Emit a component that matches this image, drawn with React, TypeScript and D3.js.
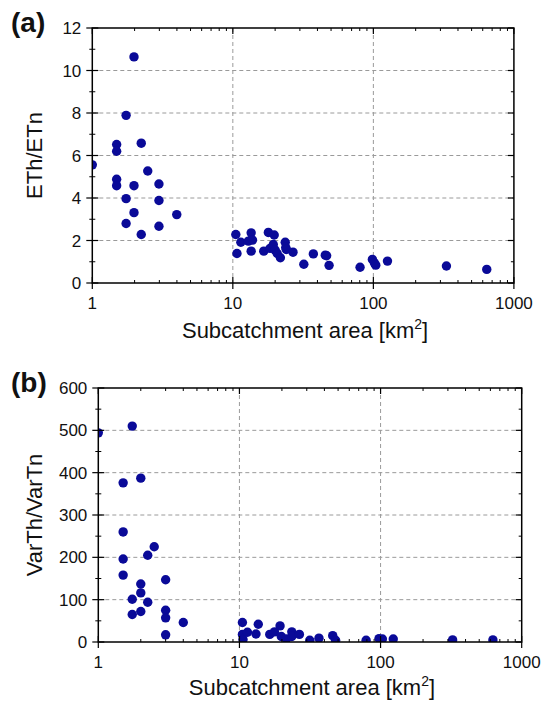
import React from "react";
import * as d3 from "d3";

// Panel (a): ETh/ETn vs subcatchment area
const topArea = [1, 1.98, 1.74, 1.49, 1.49, 2.23, 2.48, 1.49, 1.49, 1.98, 2.98, 1.74, 2.98, 1.98, 3.99, 1.74, 2.98, 2.23,
  10.5, 10.7, 11.4, 12.9, 13.5, 13.8, 13.5, 16.6, 17.9, 19.7, 18.4, 19.4, 20.0, 20.7, 21.8, 23.6, 23.8, 24.0, 26.8, 32.0,
  37.4, 45.5, 46.5, 48.4, 80.4, 98.4, 101.6, 104, 126, 331, 641];
const topRatio = [5.56, 10.64, 7.89, 6.52, 6.2, 6.58, 5.27, 4.88, 4.58, 4.58, 4.66, 3.97, 3.88, 3.31, 3.22, 2.8, 2.67, 2.28,
  2.28, 1.39, 1.92, 1.97, 2.36, 2.02, 1.5, 1.5, 2.38, 2.26, 1.63, 1.81, 1.55, 1.39, 1.19, 1.92, 1.67, 1.58, 1.45, 0.88,
  1.37, 1.31, 1.28, 0.83, 0.74, 1.11, 0.95, 0.84, 1.03, 0.8, 0.64];

// Panel (b): VarTh/VarTn vs subcatchment area
const bottomArea = [1, 1.74, 1.5, 2.0, 1.5, 2.49, 2.24, 1.5, 1.5, 3.0, 2.0, 2.0, 1.74, 2.24, 2.0, 3.0, 1.74, 3.0, 4.0, 3.0,
  10.5, 10.5, 10.6, 11.4, 13.6, 13.1, 16.4, 17.7, 19.4, 19.8, 21.5, 23.5, 23.5, 26.6, 31.5, 36.6, 45.8, 48, 79, 97.5, 103,
  123, 324, 625];
const bottomRatio = [494, 510, 376, 387, 260, 225, 205, 196, 158, 147, 137, 116, 101, 94, 72, 75, 65, 57, 46, 17,
  46, 18, 6, 23, 42, 19, 18, 24, 38, 13, 7, 24, 13, 18, 4, 9, 15, 4, 4, 8, 7, 7, 5, 5];

const xMajorTicks = [1, 10, 100, 1000];
const xTickLabels = ["1", "10", "100", "1000"];
const topYTicks = [0, 2, 4, 6, 8, 10, 12];
const bottomYTicks = [0, 100, 200, 300, 400, 500, 600];

const FONT = "'Liberation Sans', Arial, Helvetica, sans-serif";
const DOT = "#0a0a98";

type PanelProps = {
  id: string;
  xs: number[];
  ys: number[];
  yTicks: number[];
  left: number;
  right: number;
  top: number;
  bottom: number;
  yLabel: string;
  tag: string;
  labelOffset: number;
};

function Panel({ id, xs, ys, yTicks, left, right, top, bottom, yLabel, tag, labelOffset }: PanelProps) {
  const x = d3.scaleLog().domain([1, 1000]).range([left, right]);
  const yMax = yTicks[yTicks.length - 1];
  const y = d3.scaleLinear().domain([0, yMax]).range([bottom, top]);
  const step = yTicks[1] - yTicks[0];
  const yMinor = yTicks.slice(0, -1).map((t) => t + step / 2);
  const xMinor: number[] = [];
  [1, 10, 100].forEach((d) => {
    for (let k = 2; k <= 9; k++) xMinor.push(k * d);
  });
  const midX = (left + right) / 2;
  const midY = (top + bottom) / 2;
  return (
    <g>
      <defs>
        <clipPath id={`clip-${id}`}>
          <rect x={left} y={top} width={right - left} height={bottom - top} />
        </clipPath>
      </defs>
      {/* grid */}
      {yTicks.slice(1, -1).map((t) => (
        <line key={`gy${t}`} x1={left} x2={right} y1={y(t)} y2={y(t)} stroke="#9a9a9a" strokeWidth={1} strokeDasharray="4,3" />
      ))}
      {[10, 100].map((t) => (
        <line key={`gx${t}`} x1={x(t)} x2={x(t)} y1={top} y2={bottom} stroke="#9a9a9a" strokeWidth={1} strokeDasharray="4,3" />
      ))}
      {/* points */}
      <g clipPath={`url(#clip-${id})`}>
        {xs.map((v, i) => (
          <circle key={i} cx={x(v)} cy={y(ys[i])} r={4.7} fill={DOT} />
        ))}
      </g>
      {/* frame */}
      <rect x={left} y={top} width={right - left} height={bottom - top} fill="none" stroke="#000" strokeWidth={1.5} />
      {/* left/right ticks */}
      {yTicks.map((t) => (
        <g key={`yt${t}`}>
          <line x1={left - 6} x2={left + 6} y1={y(t)} y2={y(t)} stroke="#000" strokeWidth={1.2} />
          <line x1={right - 6} x2={right} y1={y(t)} y2={y(t)} stroke="#000" strokeWidth={1.2} />
          <text x={left - 11} y={y(t)} dy="0.36em" textAnchor="end" fontFamily={FONT} fontSize={17} fill="#111">
            {t}
          </text>
        </g>
      ))}
      {yMinor.map((t) => (
        <g key={`ym${t}`}>
          <line x1={left - 3} x2={left + 3} y1={y(t)} y2={y(t)} stroke="#000" strokeWidth={1} />
          <line x1={right - 3} x2={right} y1={y(t)} y2={y(t)} stroke="#000" strokeWidth={1} />
        </g>
      ))}
      {/* top/bottom ticks */}
      {xMajorTicks.map((t, i) => (
        <g key={`xt${t}`}>
          <line x1={x(t)} x2={x(t)} y1={bottom - 6} y2={bottom + 6} stroke="#000" strokeWidth={1.2} />
          <line x1={x(t)} x2={x(t)} y1={top} y2={top + 6} stroke="#000" strokeWidth={1.2} />
          <text x={x(t)} y={bottom + 26} textAnchor="middle" fontFamily={FONT} fontSize={17} fill="#111">
            {xTickLabels[i]}
          </text>
        </g>
      ))}
      {xMinor.map((t) => (
        <g key={`xm${t}`}>
          <line x1={x(t)} x2={x(t)} y1={bottom - 3} y2={bottom} stroke="#000" strokeWidth={1} />
          <line x1={x(t)} x2={x(t)} y1={top} y2={top + 3} stroke="#000" strokeWidth={1} />
        </g>
      ))}
      {/* axis labels */}
      <text x={midX + 2} y={bottom + labelOffset} textAnchor="middle" fontFamily={FONT} fontSize={22} fill="#111">
        Subcatchment area [km
        <tspan fontSize={14} dy={-9}>2</tspan>
        <tspan dy={9}>]</tspan>
      </text>
      <text
        transform={`translate(42,${midY}) rotate(-90)`}
        textAnchor="middle"
        fontFamily={FONT}
        fontSize={22}
        fill="#111"
      >
        {yLabel}
      </text>
      <text x={11} y={top + 4} fontFamily={FONT} fontSize={28} fontWeight="bold" fill="#111">
        {tag}
      </text>
    </g>
  );
}

export default function App() {
  return (
    <svg
      width={541}
      height={701}
      style={{ position: "absolute", left: 0, top: 0, background: "#fff" }}
    >
      <rect width={541} height={701} fill="#fff" />
      <Panel id="a" xs={topArea} ys={topRatio} yTicks={topYTicks} left={92.3} right={513.9} top={28} bottom={283}
        yLabel="ETh/ETn" tag="(a)" labelOffset={55} />
      <Panel id="b" xs={bottomArea} ys={bottomRatio} yTicks={bottomYTicks} left={98.3} right={521.7} top={388} bottom={642}
        yLabel="VarTh/VarTn" tag="(b)" labelOffset={53} />
    </svg>
  );
}
